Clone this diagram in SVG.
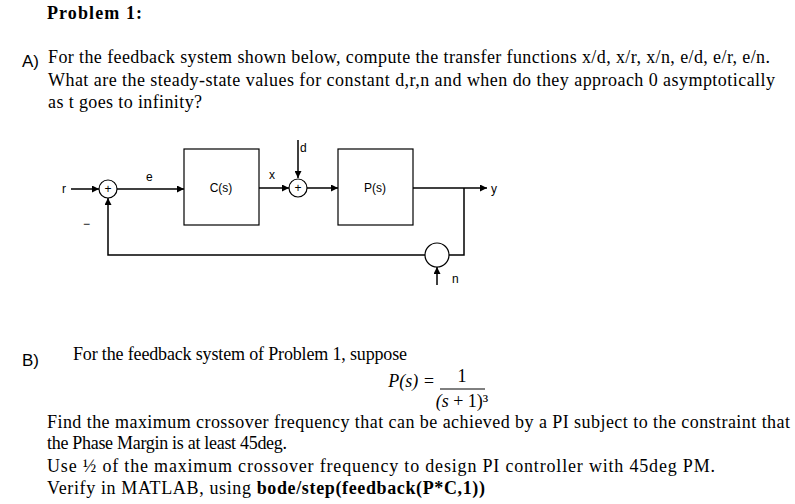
<svg xmlns="http://www.w3.org/2000/svg" width="795" height="504" viewBox="0 0 795 504">
<style>
.t{font-family:"Liberation Serif",serif;font-size:18px;fill:#000}
.s{font-family:"Liberation Sans",sans-serif;font-size:12px;fill:#000}
.l{stroke:#000;stroke-width:1.5;fill:none}
.b{stroke:#000;stroke-width:1.2;fill:#fff}
</style>
<defs><marker id="a" viewBox="0 0 10 10" refX="10" refY="5" markerWidth="7" markerHeight="7" orient="auto" markerUnits="userSpaceOnUse"><path d="M0,0L10,5L0,10z" fill="#000"/></marker></defs>
<rect width="795" height="504" fill="#fff"/>
<text class="t" x="47" y="19" font-weight="bold" textLength="95">Problem 1:</text>
<text x="22" y="67" font-family="Liberation Sans,sans-serif" font-size="17">A)</text>
<text class="t" x="48" y="63" textLength="722">For the feedback system shown below, compute the transfer functions x/d, x/r, x/n, e/d, e/r, e/n.</text>
<text class="t" x="48" y="86" textLength="727">What are the steady-state values for constant d,r,n and when do they approach 0 asymptotically</text>
<text class="t" x="48" y="108" textLength="154">as t goes to infinity?</text>
<g id="connectors">
<line class="l" x1="71" y1="189" x2="99" y2="189" marker-end="url(#a)"/>
<line class="l" x1="117" y1="189" x2="184" y2="189" marker-end="url(#a)"/>
<line class="l" x1="259" y1="188" x2="289" y2="188" marker-end="url(#a)"/>
<line class="l" x1="298" y1="140" x2="298" y2="178" marker-end="url(#a)"/>
<line class="l" x1="307" y1="188" x2="338" y2="188" marker-end="url(#a)"/>
<line class="l" x1="413" y1="188" x2="487" y2="188" marker-end="url(#a)"/>
<polyline class="l" points="464,188 464,255 449,255"/>
<polyline class="l" points="425,255 108,255 108,198" marker-end="url(#a)"/>
<line class="l" x1="437" y1="285" x2="437" y2="267" marker-end="url(#a)"/>
</g>
<g id="sum1"><circle class="b" cx="108" cy="189" r="9"/><text class="s" x="108" y="193" text-anchor="middle" font-size="11">+</text></g>
<g id="C"><rect class="b" x="184" y="149" width="75" height="76"/><text class="s" x="221" y="192" text-anchor="middle">C(s)</text></g>
<g id="sum2"><circle class="b" cx="298" cy="188" r="9"/><text class="s" x="298" y="192" text-anchor="middle" font-size="11">+</text></g>
<g id="P"><rect class="b" x="338" y="149" width="75" height="76"/><text class="s" x="375" y="192" text-anchor="middle">P(s)</text></g>
<g id="noise"><circle class="b" cx="437" cy="255" r="12"/></g>
<g id="labels">
<text class="s" x="62" y="193">r</text>
<text class="s" x="146" y="181">e</text>
<text class="s" x="269" y="179">x</text>
<text class="s" x="300" y="152">d</text>
<text class="s" x="491" y="193">y</text>
<text class="s" x="452" y="283">n</text>
<text class="s" x="83" y="228">−</text>
</g>
<text x="22" y="366" font-family="Liberation Sans,sans-serif" font-size="17">B)</text>
<text class="t" x="73" y="360" textLength="334">For the feedback system of Problem 1, suppose</text>
<text class="t" x="435" y="387" font-style="italic" text-anchor="end">P(s) =</text>
<line x1="440" y1="389" x2="485" y2="389" stroke="#000" stroke-width="1"/>
<text class="t" x="462" y="382" text-anchor="middle">1</text>
<text class="t" x="462" y="407" text-anchor="middle"><tspan font-style="italic">(s</tspan> + 1)³</text>
<text class="t" x="47" y="428" textLength="743">Find the maximum crossover frequency that can be achieved by a PI subject to the constraint that</text>
<text class="t" x="47" y="449" textLength="240">the Phase Margin is at least 45deg.</text>
<text class="t" x="47" y="472" textLength="668">Use ½ of the maximum crossover frequency to design PI controller with 45deg PM.</text>
<text class="t" x="47" y="494" textLength="438">Verify in MATLAB, using <tspan font-weight="bold">bode/step(feedback(P*C,1))</tspan></text>
</svg>
